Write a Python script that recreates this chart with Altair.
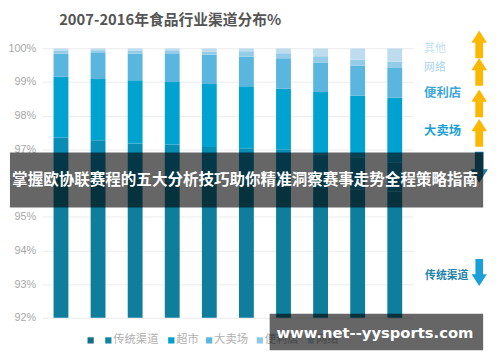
import altair as alt
import pandas as pd

# ---------------- data ----------------
years = ["2007", "2008", "2009", "2010", "2011", "2012", "2013", "2014", "2015", "2016"]
channels = ["传统渠道", "超市", "大卖场", "便利店", "网络", "其他"]
traditional = [96.20, 96.15, 96.10, 96.05, 96.00, 95.95, 95.90, 95.85, 95.80, 95.75]
supermarket = [1.15, 1.12, 1.07, 1.09, 1.07, 1.08, 1.10, 1.00, 0.95, 0.85]
hypermarket = [1.81, 1.82, 1.88, 1.86, 1.87, 1.84, 1.80, 1.85, 1.84, 1.93]
convenience = [0.68, 0.77, 0.79, 0.83, 0.87, 0.88, 0.90, 0.88, 0.90, 0.88]
online = [0.09, 0.08, 0.09, 0.09, 0.09, 0.16, 0.15, 0.18, 0.17, 0.19]
other = [0.07, 0.06, 0.07, 0.08, 0.10, 0.09, 0.15, 0.24, 0.34, 0.40]
y_ticks = [92, 93, 94, 95, 96, 97, 98, 99, 100]

title_text = "2007-2016年食品行业渠道分布%"
banner_text = "掌握欧协联赛程的五大分析技巧助你精准洞察赛事走势全程策略指南"
watermark_text = "www.net--yysports.com"
legend_labels = ["", "传统渠道", "超市", "大卖场", "便利店", "网络"]

# ---------------- styles ----------------
bar_colors = ["#0f7d9c", "#0a8db5", "#00a2d0", "#5ab6df", "#92cce8", "#bddcee"]
legend_colors = ["#136f88", "#0f86a6", "#00a0cc", "#5ab8e0", "#8cc9e6", "#b5dbee"]
CJK = "Noto Sans CJK SC"

series = [traditional, supermarket, hypermarket, convenience, online, other]
rows = []
for ci, (ch, vals) in enumerate(zip(channels, series)):
    for yi, yr in enumerate(years):
        rows.append({"year": yr, "channel": ch, "share": vals[yi], "idx": ci})
df = pd.DataFrame(rows)

W, H = 377, 274

bars = alt.Chart(df).mark_bar(clip=True).encode(
    x=alt.X("year:N", sort=years, axis=None,
            scale=alt.Scale(paddingInner=0.6, paddingOuter=0.3)),
    y=alt.Y("share:Q", stack="zero",
            scale=alt.Scale(domain=[92, 100], nice=False, zero=False),
            axis=alt.Axis(values=y_ticks, labelExpr="datum.value + '%'", domain=False,
                          ticks=False, grid=True, gridColor="#ebebeb", labelColor="#a8a8a8",
                          labelFontSize=11, labelFont="Liberation Sans", labelPadding=7,
                          title=None)),
    color=alt.Color("channel:N", scale=alt.Scale(domain=channels, range=bar_colors), legend=None),
    order=alt.Order("idx:Q", sort="ascending"),
)

dummy = pd.DataFrame({"a": [0]})


def txt(t, x, y, size, color, weight="normal", font=CJK, align="left"):
    return alt.Chart(dummy).mark_text(
        text=t, fontSize=size, color=color, fontWeight=weight, font=font,
        align=align, baseline="middle"
    ).encode(x=alt.value(x), y=alt.value(y))


def rect(x, x2, y, y2, color, opacity):
    return alt.Chart(dummy).mark_rect(color=color, opacity=opacity).encode(
        x=alt.value(x), x2=alt.value(x2), y=alt.value(y), y2=alt.value(y2))


UP = "M-0.28,1 L-0.28,-0.12 L-0.56,-0.12 L0,-1 L0.56,-0.12 L0.28,-0.12 L0.28,1 Z"
DOWN = "M-0.28,-1 L-0.28,0.12 L-0.56,0.12 L0,1 L0.56,0.12 L0.28,0.12 L0.28,-1 Z"


def arrow(shape, x, y, size, color):
    return alt.Chart(dummy).mark_point(shape=shape, filled=True, color=color, opacity=1,
                                       size=size, strokeWidth=0).encode(
        x=alt.value(x), y=alt.value(y))


layers = [bars]

# title
layers.append(txt(title_text, 17, -29, 15, "#555555", weight="bold"))

# right-side labels
layers.append(txt("其他", 388, 1, 11, "#c2dff0"))
layers.append(txt("网络", 388, 20, 11, "#a9d4ec"))
layers.append(txt("便利店", 388, 46, 12.5, "#3ba7d9", weight="bold"))
layers.append(txt("大卖场", 388, 84, 12.5, "#1b9fd3", weight="bold"))
layers.append(txt("传统渠道", 389, 232, 11, "#1f82a8", weight="bold"))

# arrows
for cy in [-4, 24, 56, 86]:
    layers.append(arrow(UP, 444, cy, 800, "#fbb800"))
layers.append(arrow(DOWN, 444, 121, 1000, "#1e7c9c"))
layers.append(arrow(DOWN, 444, 228, 760, "#19a0d8"))

# bottom legend
sq_x = [49, 67, 131, 169.5, 221, 273]
for lbl, col, sx in zip(legend_labels, legend_colors, sq_x):
    layers.append(alt.Chart(dummy).mark_square(color=col, opacity=1, size=40).encode(
        x=alt.value(sx), y=alt.value(297)))
    if lbl:
        layers.append(txt(lbl, sx + 5, 297, 11.5, "#b0b0b0"))

# overlay banner
layers.append(rect(-33, 448, 106, 162, "#000000", 0.6))
layers.append(txt(banner_text, 206, 134, 15.8, "#ffffff", weight="bold", align="center"))

# watermark
layers.append(rect(231, 448, 270, 307, "#000000", 0.6))
layers.append(txt(watermark_text, 338, 290, 15, "#ffffff", weight="bold",
                  font="DejaVu Sans", align="center"))

chart = alt.layer(*layers).properties(
    width=W, height=H,
    autosize=alt.AutoSizeParams(type="none"),
    padding={"left": 35, "top": 38, "right": 80, "bottom": 40},
).configure_view(stroke=None)

chart.save("out.html", embed_options={"renderer": "svg", "actions": False})
